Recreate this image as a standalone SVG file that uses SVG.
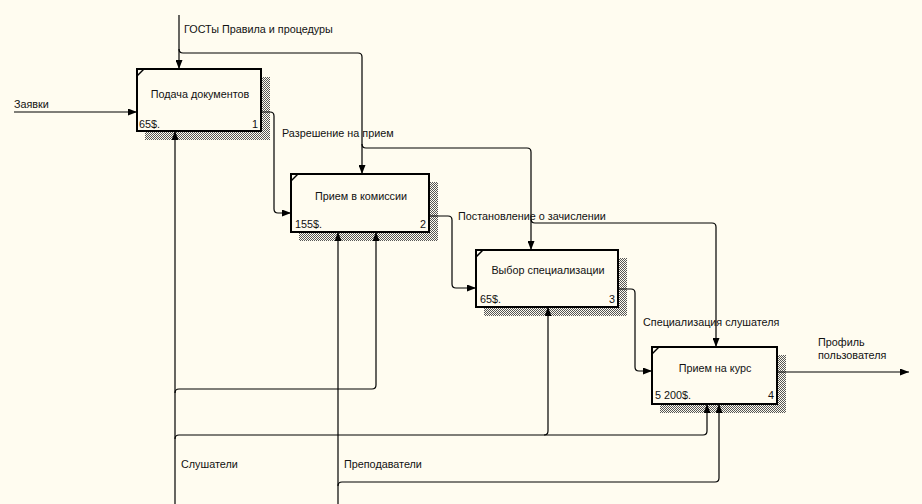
<svg xmlns="http://www.w3.org/2000/svg" width="922" height="504" viewBox="0 0 922 504">
<defs>
<pattern id="hatch" width="2" height="2" patternUnits="userSpaceOnUse">
<rect width="2" height="2" fill="#fffcf0"/>
<rect width="1" height="1" fill="#555"/>
<rect x="1" y="1" width="1" height="1" fill="#555"/>
</pattern>
<marker id="ah" markerWidth="9" markerHeight="7" refX="9" refY="3.5" orient="auto" markerUnits="userSpaceOnUse">
<path d="M0,0 L9,3.5 L0,7 z" fill="#000"/>
</marker>
<style>
text{font-family:"Liberation Sans",Arial,sans-serif;font-size:10.8px;fill:#111}
.box{fill:#fffcf0;stroke:#000;stroke-width:2}
.sh{fill:url(#hatch)}
.c{fill:none;stroke:#000;stroke-width:1.2}
.a{marker-end:url(#ah)}
.mid{text-anchor:middle}
.end{text-anchor:end}
</style>
</defs>
<rect width="922" height="504" fill="#fffcf0"/>

<g id="node1">
<rect class="sh" x="145" y="77" width="125" height="63"/>
<rect class="box" x="137" y="69" width="124" height="62"/>
<line x1="137" y1="76" x2="144" y2="69" stroke="#000" stroke-width="1.5"/>
<text class="mid" x="200" y="98">Подача документов</text>
<text x="139" y="128">65$.</text>
<text class="end" x="258" y="128">1</text>
</g>

<g id="node2">
<rect class="sh" x="299" y="182" width="139" height="59"/>
<rect class="box" x="291" y="174" width="138" height="58"/>
<line x1="291" y1="181" x2="298" y2="174" stroke="#000" stroke-width="1.5"/>
<text class="mid" x="361" y="200">Прием в комиссии</text>
<text x="295" y="228">155$.</text>
<text class="end" x="426" y="228">2</text>
</g>

<g id="node3">
<rect class="sh" x="484" y="258" width="143" height="58"/>
<rect class="box" x="476" y="250" width="142" height="57"/>
<line x1="476" y1="257" x2="483" y2="250" stroke="#000" stroke-width="1.5"/>
<text class="mid" x="548" y="274">Выбор специализации</text>
<text x="480" y="303">65$.</text>
<text class="end" x="615" y="303">3</text>
</g>

<g id="node4">
<rect class="sh" x="660" y="355" width="126" height="58"/>
<rect class="box" x="652" y="347" width="125" height="57"/>
<line x1="652" y1="354" x2="659" y2="347" stroke="#000" stroke-width="1.5"/>
<text class="mid" x="715" y="372">Прием на курс</text>
<text x="655" y="399">5 200$.</text>
<text class="end" x="774" y="399">4</text>
</g>

<g id="connectors">
<path class="c a" d="M14,112 H137"/>
<path class="c a" d="M179,15 V69"/>
<path class="c a" d="M179,49 q0,4 4,4 H358 q4,0 4,4 V174"/>
<path class="c a" d="M362,144 q0,4 4,4 H527 q4,0 4,4 V250"/>
<path class="c a" d="M531,219 q0,4 4,4 H712 q4,0 4,4 V347"/>
<path class="c a" d="M261,112 H270 q4,0 4,4 V209 q0,4 4,4 H291"/>
<path class="c a" d="M429,216 H448 q4,0 4,4 V284 q0,4 4,4 H476"/>
<path class="c a" d="M618,289 H631 q4,0 4,4 V367 q0,4 4,4 H652"/>
<path class="c a" d="M777,372 H909"/>
<path class="c a" d="M175,504 V131"/>
<path class="c a" d="M175,393 q0,-4 4,-4 H372 q4,0 4,-4 V232"/>
<path class="c a" d="M175,439 q0,-4 4,-4 H544 q4,0 4,-4 V307"/>
<path class="c a" d="M544,435 H703 q4,0 4,-4 V404"/>
<path class="c a" d="M338,504 V232"/>
<path class="c a" d="M338,486 q0,-4 4,-4 H715 q4,0 4,-4 V404"/>
</g>

<g id="labels">
<text x="14" y="108">Заявки</text>
<text x="184" y="33">ГОСТы Правила и процедуры</text>
<text x="282" y="137">Разрешение на прием</text>
<text x="458" y="220">Постановление о зачислении</text>
<text x="643" y="326">Специализация слушателя</text>
<text x="818" y="346">Профиль</text>
<text x="818" y="359">пользователя</text>
<text x="181" y="468">Слушатели</text>
<text x="344" y="468">Преподаватели</text>
</g>
</svg>
